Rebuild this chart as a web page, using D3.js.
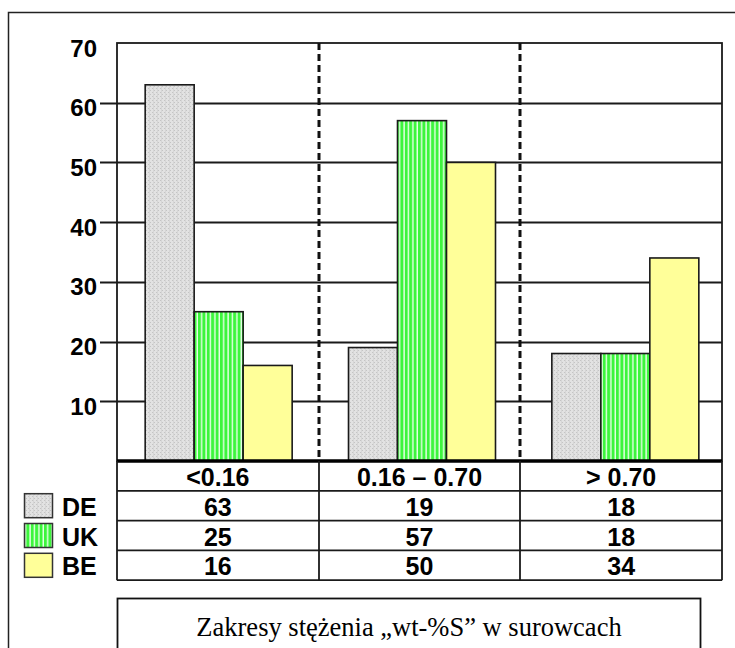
<!DOCTYPE html>
<html>
<head>
<meta charset="utf-8">
<script src="https://cdn.jsdelivr.net/npm/d3@7"></script>
<style>
  html, body { margin: 0; padding: 0; background: #fff; }
  svg { display: block; }
</style>
</head>
<body>
<svg id="chart" width="735" height="648"></svg>
<script>
// Sulphur concentration ranges (wt-%S) in raw materials, share per country
const categories = ["<0.16", "0.16 \u2013 0.70", "> 0.70"];
const series = ["DE", "UK", "BE"];
const valuesDE = [63, 19, 18];
const valuesUK = [25, 57, 18];
const valuesBE = [16, 50, 34];
const yTicks = [10, 20, 30, 40, 50, 60, 70];
const caption = "Zakresy st\u0119\u017cenia \u201ewt-%S\u201d w surowcach";

const data = series.map((s, i) => ({ name: s, values: [valuesDE, valuesUK, valuesBE][i] }));

const svg = d3.select("#chart");
const plot = { left: 117, right: 722, top: 43, bottom: 461 };
const rowH = 29.8;

const sans = "'Liberation Sans', Arial, sans-serif";
const serif = "'Liberation Serif', 'Times New Roman', serif";

// Fill patterns
const defs = svg.append("defs");
const pDE = defs.append("pattern").attr("id", "patDE").attr("patternUnits", "userSpaceOnUse")
  .attr("width", 4).attr("height", 4);
pDE.append("rect").attr("width", 4).attr("height", 4).attr("fill", "#e2e2e2");
pDE.append("rect").attr("x", 0).attr("y", 0).attr("width", 1).attr("height", 1).attr("fill", "#c4c4c4");
pDE.append("rect").attr("x", 2).attr("y", 2).attr("width", 1).attr("height", 1).attr("fill", "#c4c4c4");
pDE.append("rect").attr("x", 1).attr("y", 0).attr("width", 1).attr("height", 4).attr("fill", "#d6d6d6");

const pUK = defs.append("pattern").attr("id", "patUK").attr("patternUnits", "userSpaceOnUse")
  .attr("width", 4.4).attr("height", 4);
pUK.append("rect").attr("width", 4.4).attr("height", 4).attr("fill", "#3cf53c");
pUK.append("rect").attr("x", 3).attr("width", 1.4).attr("height", 4).attr("fill", "#e8ffe8");

const fills = { DE: "url(#patDE)", UK: "url(#patUK)", BE: "#ffff99" };

// Outer frame
svg.append("rect").attr("x", 8.5).attr("y", 12.5).attr("width", 760).attr("height", 700)
  .attr("fill", "none").attr("stroke", "#222").attr("stroke-width", 1.5);

// Scales: table columns, and the bar groups laid out slightly wider
const x0 = d3.scaleBand().domain(categories).range([plot.left, plot.right]).padding(0);
const xg = d3.scaleBand().domain(categories).range([plot.left, plot.right + 5]).padding(0);
const x1 = d3.scaleBand().domain(series).range([0, xg.bandwidth()]).paddingInner(0).paddingOuter(0.575);
const y = d3.scaleLinear().domain([0, 70]).range([plot.bottom, plot.top]);

// Gridlines with tick stubs
svg.append("g").selectAll("line").data(yTicks.filter(t => t < 70)).join("line")
  .attr("x1", plot.left - 17).attr("x2", plot.right)
  .attr("y1", d => Math.round(y(d)) + 0.5).attr("y2", d => Math.round(y(d)) + 0.5)
  .attr("stroke", "#1a1a1a").attr("stroke-width", 2);

// Plot border
svg.append("rect").attr("x", plot.left).attr("y", plot.top)
  .attr("width", plot.right - plot.left).attr("height", plot.bottom - plot.top)
  .attr("fill", "none").attr("stroke", "#1a1a1a").attr("stroke-width", 1.8);

// Bars
const groups = svg.append("g").selectAll("g").data(data).join("g");
groups.selectAll("rect").data(d => d.values.map((v, i) => ({ name: d.name, cat: categories[i], v })))
  .join("rect")
  .attr("x", d => xg(d.cat) + x1(d.name))
  .attr("width", x1.bandwidth())
  .attr("y", d => y(d.v))
  .attr("height", d => y(0) - y(d.v))
  .attr("fill", d => fills[d.name])
  .attr("stroke", "#1a1a1a").attr("stroke-width", 1.6);

// Dashed category separators
svg.append("g").selectAll("line").data(categories.slice(1)).join("line")
  .attr("x1", d => Math.round(x0(d))).attr("x2", d => Math.round(x0(d)))
  .attr("y1", plot.top).attr("y2", plot.bottom)
  .attr("stroke", "#111").attr("stroke-width", 3).attr("stroke-dasharray", "7,4");

// Baseline
svg.append("line").attr("x1", plot.left).attr("x2", plot.right)
  .attr("y1", plot.bottom).attr("y2", plot.bottom)
  .attr("stroke", "#000").attr("stroke-width", 3.5);

// Y tick labels
svg.append("g").selectAll("text").data(yTicks).join("text")
  .attr("x", 97).attr("y", d => y(d) + 5)
  .attr("text-anchor", "end").attr("dominant-baseline", "central")
  .attr("font-family", sans).attr("font-weight", "bold").attr("font-size", 24)
  .attr("fill", "#000").text(d => d);

// Data table under the plot
const tTop = plot.bottom;
const nRows = 1 + series.length;
const tBottom = tTop + rowH * nRows;
const tg = svg.append("g");
tg.selectAll("line.h").data(d3.range(1, nRows + 1)).join("line")
  .attr("x1", plot.left).attr("x2", plot.right)
  .attr("y1", i => tTop + rowH * i).attr("y2", i => tTop + rowH * i)
  .attr("stroke", "#1a1a1a").attr("stroke-width", 1.8);
tg.selectAll("line.v").data([plot.left, ...categories.slice(1).map(c => Math.round(x0(c))), plot.right]).join("line")
  .attr("x1", d => d).attr("x2", d => d)
  .attr("y1", tTop).attr("y2", tBottom)
  .attr("stroke", "#1a1a1a").attr("stroke-width", 1.8);

const cellFont = sel => sel.attr("font-family", sans).attr("font-weight", "bold")
  .attr("font-size", 25).attr("fill", "#000").attr("text-anchor", "middle")
  .attr("dominant-baseline", "central");

tg.selectAll("text.head").data(categories).join("text")
  .attr("class", "head")
  .attr("x", d => x0(d) + x0.bandwidth() / 2)
  .attr("y", tTop + rowH / 2 + 1)
  .call(cellFont).text(d => d);

data.forEach((s, r) => {
  tg.append("g").selectAll("text").data(s.values).join("text")
    .attr("x", (d, i) => x0(categories[i]) + x0.bandwidth() / 2)
    .attr("y", tTop + rowH * (r + 1) + rowH / 2 + 1)
    .call(cellFont).text(d => d);
});

// Legend keys beside the table rows
const lg = svg.append("g");
data.forEach((s, r) => {
  const cy = tTop + rowH * (r + 1) + rowH / 2;
  lg.append("rect").attr("x", 24.5).attr("y", cy - 12).attr("width", 28).attr("height", 24)
    .attr("fill", fills[s.name]).attr("stroke", "#333").attr("stroke-width", 1.5);
  lg.append("text").attr("x", 62).attr("y", cy + 1)
    .attr("dominant-baseline", "central")
    .attr("font-family", sans).attr("font-weight", "bold").attr("font-size", 25)
    .attr("fill", "#000").text(s.name);
});

// Caption box
svg.append("rect").attr("x", 117.5).attr("y", 598.5).attr("width", 583).attr("height", 80)
  .attr("fill", "#fff").attr("stroke", "#111").attr("stroke-width", 1.8);
svg.append("text").attr("x", 409).attr("y", 636)
  .attr("text-anchor", "middle")
  .attr("font-family", serif).attr("font-size", 26.5).attr("fill", "#000")
  .text(caption);
</script>
</body>
</html>
